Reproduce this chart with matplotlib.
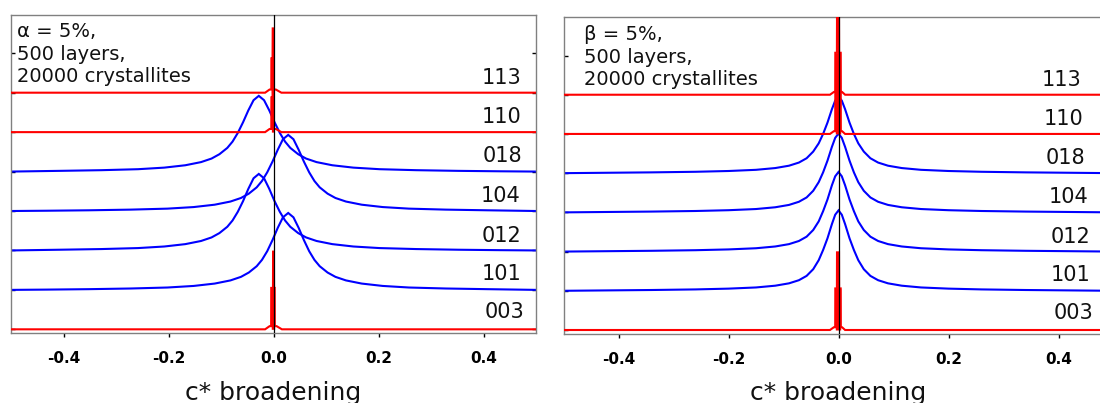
import matplotlib
matplotlib.use('Agg')
import matplotlib.pyplot as plt
from matplotlib.transforms import blended_transform_factory

plt.rcParams['font.family'] = ['DejaVu Sans']

# ---------------- data ----------------
reflections = ['003', '101', '012', '104', '018', '110', '113']   # bottom -> top
offsets = [0, 1, 2, 3, 4, 5, 6]
label_x_left = [0.477, 0.472, 0.473, 0.471, 0.473, 0.472, 0.472]
label_x_right = [0.463, 0.458, 0.458, 0.454, 0.449, 0.445, 0.442]
label_dy = [0.28, 0.24, 0.22, 0.24, 0.23, 0.22, 0.21]

xticks = [-0.4, -0.2, 0.0, 0.2, 0.4]
xtick_labels = ['-0.4', '-0.2', '0.0', '0.2', '0.4']

# --- left panel (alpha = 5 %) : sharp red reflections ---
L_spike_x = [-0.5, -0.016, -0.0075, -0.0042, -0.004, -0.0018, -0.0015, -0.0008,
             -0.0005, 0.0002, 0.0004, 0.0045, 0.015, 0.5]
L_spike_113_y = [0, 0, 0.08, 0.08, 0.87, 0.87, 1.63, 1.63, 0.87, 0.87, 0.08, 0.08, 0, 0]
L_spike_110_y = [0, 0, 0.08, 0.08, 0.88, 0.88, 1.63, 1.63, 0.88, 0.88, 0.08, 0.08, 0, 0]
L_spike003_x = [-0.5, -0.016, -0.0075, -0.0045, -0.0043, -0.001, -0.0008, 0.0008,
                0.001, 0.0022, 0.0024, 0.006, 0.016, 0.5]
L_spike003_y = [0, 0, 0.08, 0.08, 1.05, 1.05, 1.97, 1.97, 1.05, 1.05, 0.08, 0.08, 0, 0]

# broadened blue reflections, peak shifted to -0.028
L_neg_x = [-0.500, -0.408, -0.328, -0.258, -0.208, -0.168, -0.138, -0.118, -0.103,
           -0.088, -0.078, -0.068, -0.058, -0.048, -0.038, -0.028, -0.018, -0.008,
           0.002, 0.012, 0.022, 0.032, 0.047, 0.062, 0.082, 0.112, 0.152, 0.202,
           0.272, 0.352, 0.432, 0.500]
L_018_y = [0.0, 0.018, 0.035, 0.06, 0.1, 0.16, 0.24, 0.33, 0.44, 0.6, 0.76, 0.98,
           1.25, 1.55, 1.81, 1.92, 1.81, 1.55, 1.25, 0.98, 0.76, 0.6, 0.44, 0.33,
           0.24, 0.16, 0.1, 0.06, 0.035, 0.018, 0.007, 0.0]
L_012_y = [0.0, 0.018, 0.035, 0.06, 0.1, 0.16, 0.24, 0.33, 0.44, 0.6, 0.76, 0.98,
           1.25, 1.56, 1.83, 1.94, 1.83, 1.56, 1.25, 0.98, 0.76, 0.6, 0.44, 0.33,
           0.24, 0.16, 0.1, 0.06, 0.035, 0.018, 0.007, 0.0]
# broadened blue reflections, peak shifted to +0.028
L_pos_x = [-0.500, -0.432, -0.352, -0.272, -0.202, -0.152, -0.112, -0.082, -0.062,
           -0.047, -0.032, -0.022, -0.012, -0.002, 0.008, 0.018, 0.028, 0.038,
           0.048, 0.058, 0.068, 0.078, 0.088, 0.103, 0.118, 0.138, 0.168, 0.208,
           0.258, 0.328, 0.408, 0.500]
L_104_y = [0.0, 0.007, 0.018, 0.035, 0.06, 0.1, 0.16, 0.24, 0.33, 0.44, 0.6, 0.76,
           0.98, 1.25, 1.55, 1.82, 1.93, 1.82, 1.55, 1.25, 0.98, 0.76, 0.6, 0.44,
           0.33, 0.24, 0.16, 0.1, 0.06, 0.035, 0.018, 0.0]
L_101_y = [0.0, 0.007, 0.018, 0.035, 0.06, 0.1, 0.16, 0.24, 0.33, 0.44, 0.6, 0.76,
           0.98, 1.26, 1.57, 1.84, 1.95, 1.84, 1.57, 1.26, 0.98, 0.76, 0.6, 0.44,
           0.33, 0.24, 0.16, 0.1, 0.06, 0.035, 0.018, 0.0]

# --- right panel (beta = 5 %) ---
R_spike_x = [-0.5, -0.0155, -0.0085, -0.006, -0.0058, -0.0029, -0.0027, 0.0009,
             0.0011, 0.004, 0.0042, 0.0065, 0.012, 0.5]
R_spike_113_y = [0, 0, 0.07, 0.07, 1.07, 1.07, 1.98, 1.98, 1.07, 1.07, 0.07, 0.07, 0, 0]
R_spike_110_y = [0, 0, 0.07, 0.07, 1.07, 1.07, 1.98, 1.98, 1.07, 1.07, 0.07, 0.07, 0, 0]
R_spike_003_y = [0, 0, 0.07, 0.07, 1.06, 1.06, 1.98, 1.98, 1.06, 1.06, 0.07, 0.07, 0, 0]

R_x = [-0.5, -0.42, -0.34, -0.26, -0.2, -0.15, -0.115, -0.09, -0.072, -0.058, -0.046,
       -0.036, -0.028, -0.02, -0.012, -0.006, 0.0, 0.006, 0.012, 0.02, 0.028, 0.036,
       0.046, 0.058, 0.072, 0.09, 0.115, 0.15, 0.2, 0.26, 0.34, 0.42, 0.5]
R_018_y = [0, 0.01, 0.02, 0.035, 0.055, 0.085, 0.13, 0.19, 0.27, 0.38, 0.55, 0.76,
           1.0, 1.29, 1.63, 1.85, 1.95, 1.85, 1.63, 1.29, 1.0, 0.76, 0.55, 0.38,
           0.27, 0.19, 0.13, 0.085, 0.055, 0.035, 0.02, 0.01, 0]
R_104_y = [0, 0.01, 0.02, 0.035, 0.055, 0.085, 0.13, 0.19, 0.27, 0.38, 0.55, 0.77,
           1.02, 1.32, 1.67, 1.9, 2.01, 1.9, 1.67, 1.32, 1.02, 0.77, 0.55, 0.38,
           0.27, 0.19, 0.13, 0.085, 0.055, 0.035, 0.02, 0.01, 0]
R_012_y = [0, 0.01, 0.02, 0.035, 0.055, 0.085, 0.13, 0.19, 0.27, 0.38, 0.55, 0.77,
           1.03, 1.33, 1.69, 1.92, 2.03, 1.92, 1.69, 1.33, 1.03, 0.77, 0.55, 0.38,
           0.27, 0.19, 0.13, 0.085, 0.055, 0.035, 0.02, 0.01, 0]
R_101_y = [0, 0.01, 0.02, 0.035, 0.055, 0.085, 0.13, 0.19, 0.27, 0.38, 0.55, 0.78,
           1.04, 1.34, 1.7, 1.94, 2.05, 1.94, 1.7, 1.34, 1.04, 0.78, 0.55, 0.38,
           0.27, 0.19, 0.13, 0.085, 0.055, 0.035, 0.02, 0.01, 0]

left_curves = {
    '003': (L_spike003_x, L_spike003_y, 'red'),
    '101': (L_pos_x, L_101_y, 'blue'),
    '012': (L_neg_x, L_012_y, 'blue'),
    '104': (L_pos_x, L_104_y, 'blue'),
    '018': (L_neg_x, L_018_y, 'blue'),
    '110': (L_spike_x, L_spike_110_y, 'red'),
    '113': (L_spike_x, L_spike_113_y, 'red'),
}
right_curves = {
    '003': (R_spike_x, R_spike_003_y, 'red'),
    '101': (R_x, R_101_y, 'blue'),
    '012': (R_x, R_012_y, 'blue'),
    '104': (R_x, R_104_y, 'blue'),
    '018': (R_x, R_018_y, 'blue'),
    '110': (R_spike_x, R_spike_110_y, 'red'),
    '113': (R_spike_x, R_spike_113_y, 'red'),
}

left_text = ['\u03b1 = 5%,', '500 layers,', '20000 crystallites']
right_text = ['\u03b2 = 5%,', '500 layers,', '20000 crystallites']

# ---------------- figure ----------------
fig = plt.figure(figsize=(11, 4.03), dpi=100)
axL = fig.add_axes([11 / 1100, (403 - 333.3) / 403, 525 / 1100, 318.3 / 403])
axR = fig.add_axes([563.5 / 1100, (403 - 334) / 403, 550 / 1100, 317.3 / 403])


def style(ax, ylim):
    ax.set_xlim(-0.5, 0.5)
    ax.set_ylim(*ylim)
    ax.set_xticks(xticks)
    ax.set_xticklabels(xtick_labels, fontsize=11, fontweight='bold')
    ax.tick_params(axis='x', direction='out', length=3, width=1, pad=10,
                   colors='black', top=False)
    ax.set_yticks(offsets + [7])
    ax.set_yticklabels([])
    ax.tick_params(axis='y', direction='in', length=3, width=1, left=True,
                   right=True, colors='black')
    for s in ax.spines.values():
        s.set_color('#808080')
        s.set_linewidth(1.0)


def draw(ax, curves, lab_x, texts, text_x, text_y):
    for name, off in zip(reflections, offsets):
        xs, ys, col = curves[name]
        if col == 'blue':
            ax.plot(xs, [v + off for v in ys], color='#0000FF', lw=1.5,
                    solid_joinstyle='miter', zorder=2)
    for name, off in zip(reflections, offsets):
        xs, ys, col = curves[name]
        if col == 'red':
            yy = [v + off for v in ys]
            ax.plot(xs, yy, color='#FF0000', lw=1.5,
                    solid_joinstyle='miter', zorder=3)
            ax.fill_between(xs, off, yy, where=[v > 0.5 for v in ys],
                            color='#FF0000', lw=0, zorder=3)
    ax.axvline(0.0, color='black', lw=0.9, zorder=4)
    for name, off, lx, dy in zip(reflections, offsets, lab_x, label_dy):
        ax.text(lx, off + dy, name, ha='right', va='baseline', fontsize=15,
                color='#111111', zorder=5)
    tr = blended_transform_factory(ax.transAxes, ax.transData)
    for t, ty in zip(texts, text_y):
        ax.text(text_x, ty, t, transform=tr, ha='left', va='baseline',
                fontsize=14, color='#111111', zorder=5)
    trx = blended_transform_factory(ax.transData, fig.transFigure)
    ax.text(0.0, 3.0 / 403, 'c* broadening', transform=trx, ha='center',
            va='baseline', fontsize=18, color='#111111')


style(axL, (-0.101, 7.97))
style(axR, (-0.102, 7.99))
draw(axL, left_curves, label_x_left, left_text, 0.011, [7.40, 6.83, 6.26])
draw(axR, right_curves, label_x_right, right_text, 0.038, [7.40, 6.80, 6.25])

fig.savefig('out.png', dpi=100)
